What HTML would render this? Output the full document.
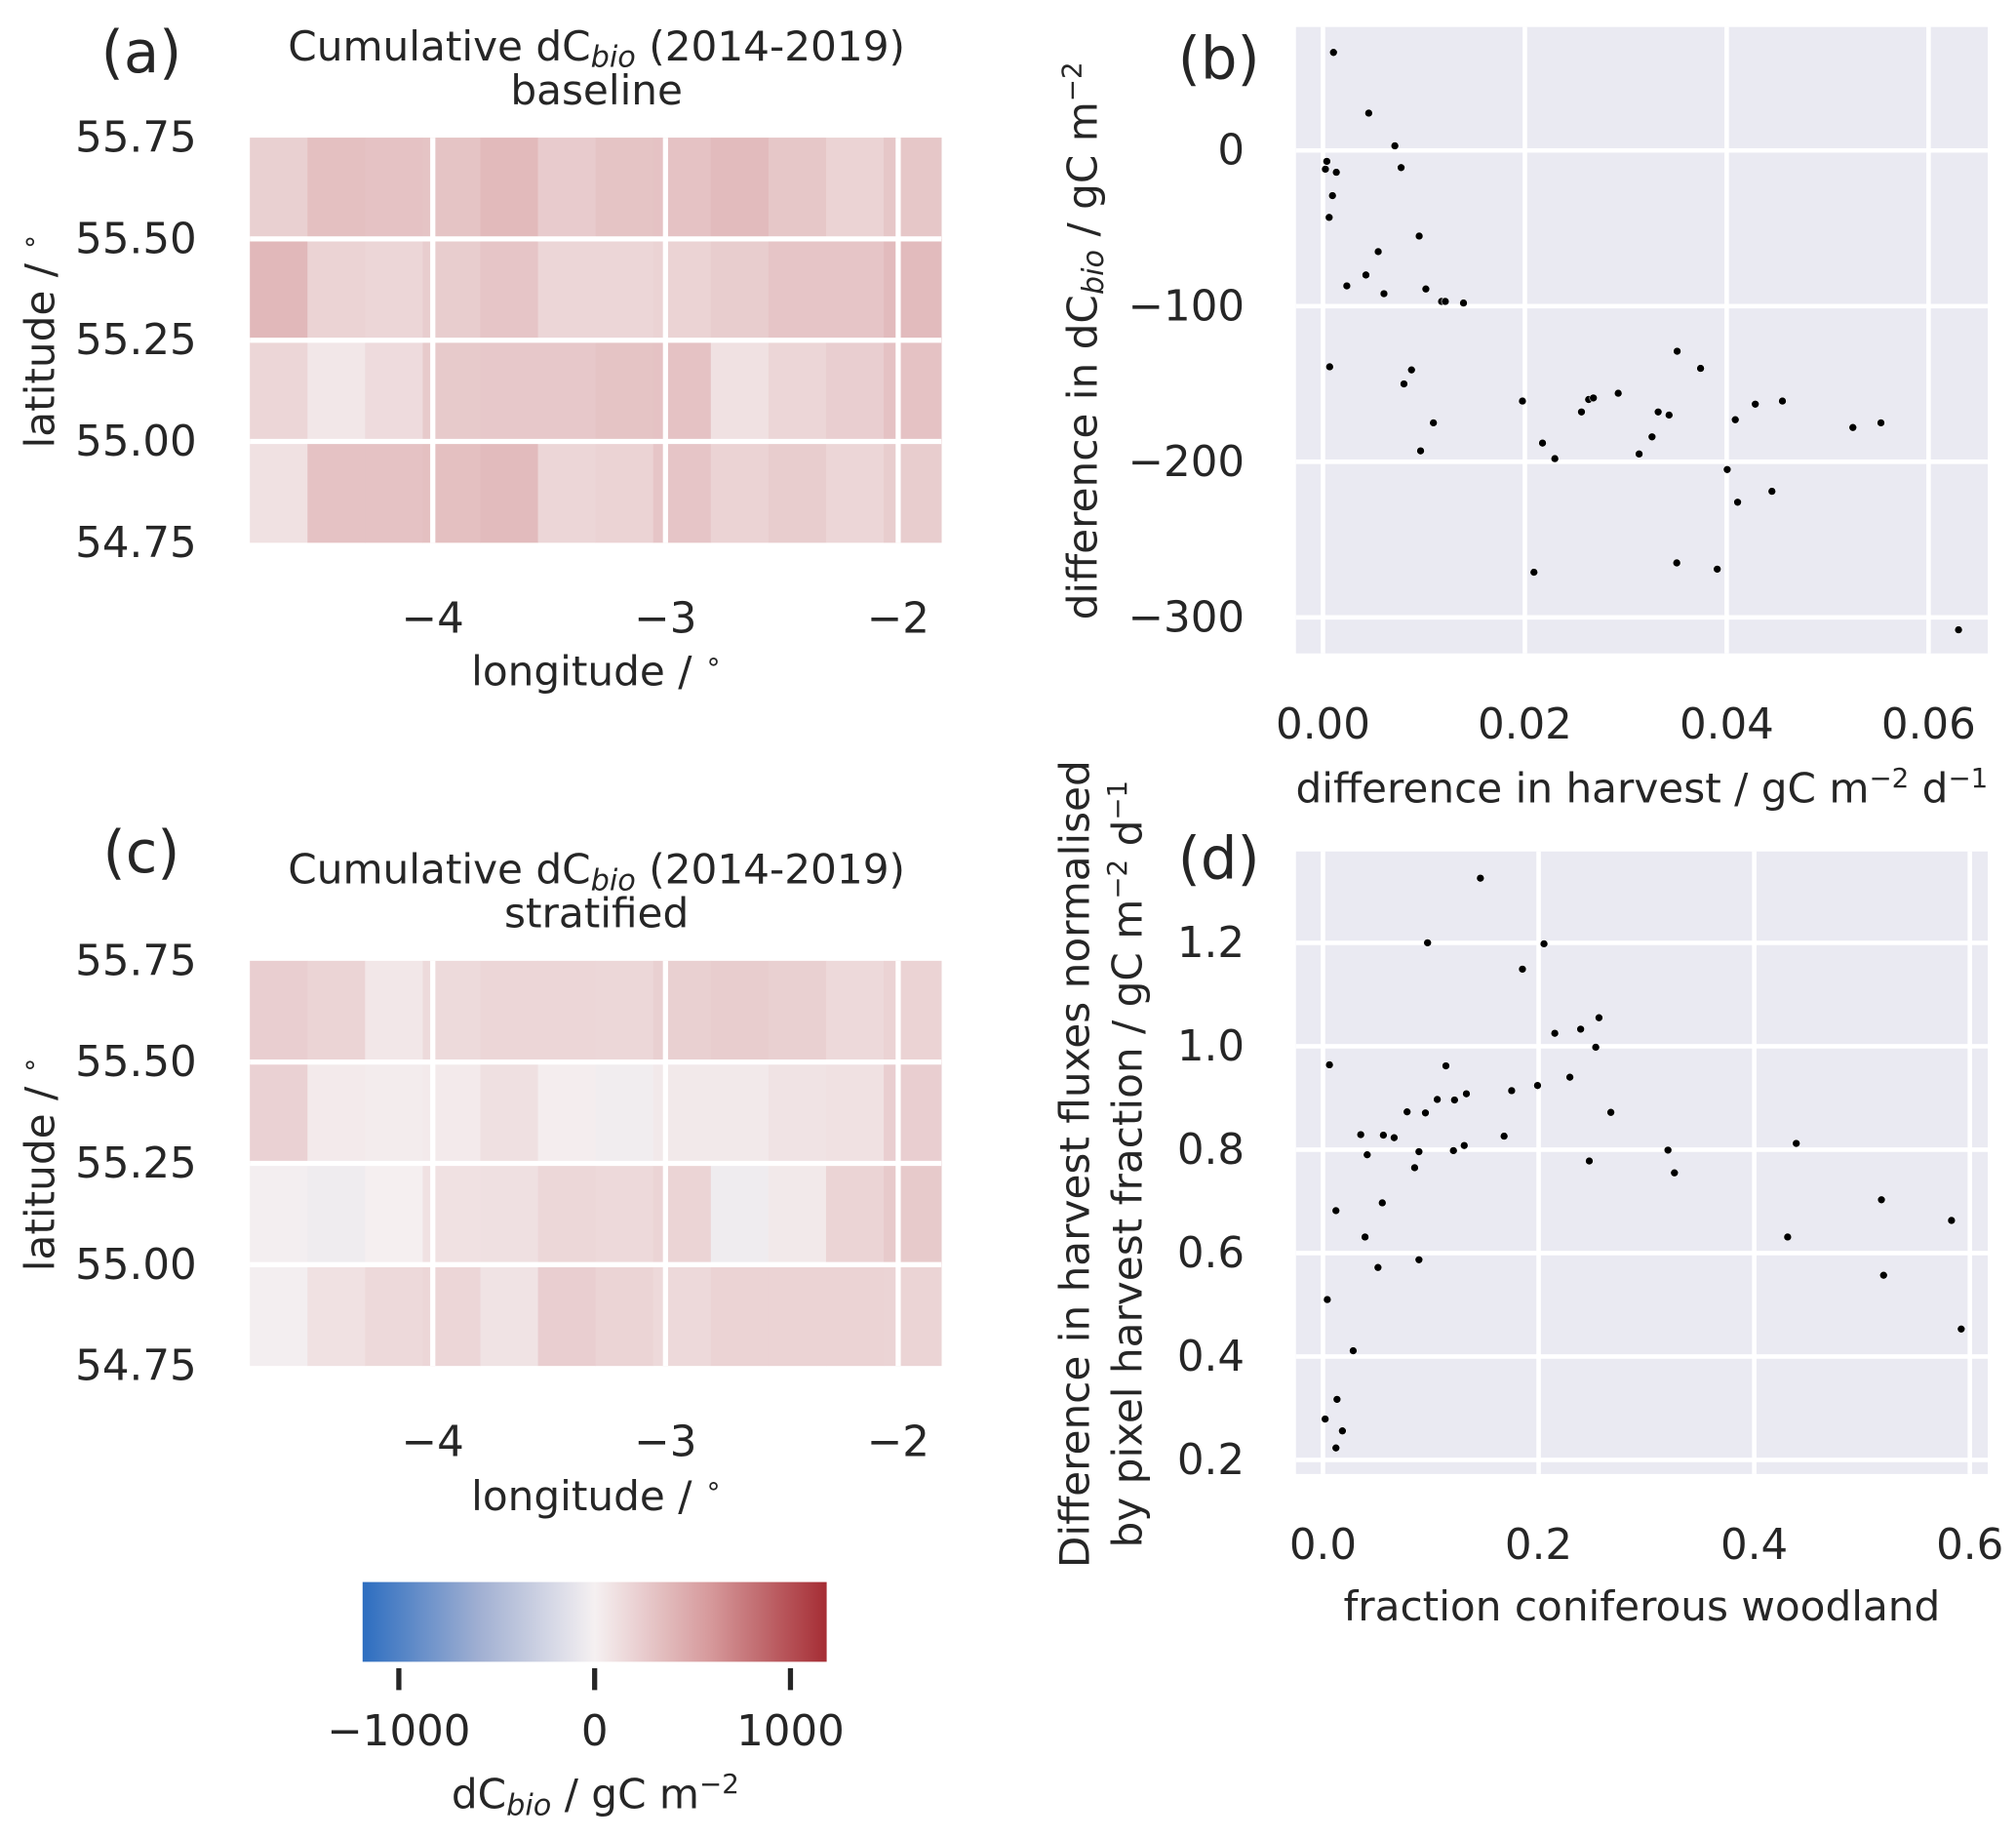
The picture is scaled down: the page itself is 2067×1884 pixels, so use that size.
<!DOCTYPE html>
<html><head><meta charset="utf-8"><style>
html,body{margin:0;padding:0;background:#fff}
svg{display:block}
text{font-family:"DejaVu Sans","Liberation Sans",sans-serif;fill:#262626}
</style></head><body>
<svg id="fig" width="2067" height="1884" viewBox="0 0 1568 1429" preserveAspectRatio="none" xmlns="http://www.w3.org/2000/svg">
<defs><linearGradient id="cbgrad" x1="0" x2="1" y1="0" y2="0"></linearGradient></defs>
<g id="pa"></g>
<g id="pc"></g>
<g id="pb"></g>
<g id="pd"></g>
<g id="cb"></g>
<text x="110" y="56" font-size="45" text-anchor="middle">(a)</text>
<text x="110" y="678" font-size="45" text-anchor="middle">(c)</text>
<text x="948" y="61" font-size="45" text-anchor="middle">(b)</text>
<text x="948" y="683" font-size="45" text-anchor="middle">(d)</text>
<text x="464" y="47" font-size="32" text-anchor="middle">Cumulative dC<tspan font-style="italic" font-size="23" dy="5">bio</tspan><tspan dy="-5"> (2014-2019)</tspan></text>
<text x="464" y="81" font-size="32" text-anchor="middle">baseline</text>
<text x="464" y="687" font-size="32" text-anchor="middle">Cumulative dC<tspan font-style="italic" font-size="23" dy="5">bio</tspan><tspan dy="-5"> (2014-2019)</tspan></text>
<text x="464" y="721" font-size="32" text-anchor="middle">stratified</text>
<text x="464" y="533" font-size="32" text-anchor="middle">longitude / <tspan font-size="21" dy="-12">∘</tspan></text>
<text x="464" y="1174" font-size="32" text-anchor="middle">longitude / <tspan font-size="21" dy="-12">∘</tspan></text>
<text transform="translate(42,265) rotate(-90)" font-size="32" text-anchor="middle">latitude / <tspan font-size="21" dy="-12">∘</tspan></text>
<text transform="translate(42,905) rotate(-90)" font-size="32" text-anchor="middle">latitude / <tspan font-size="21" dy="-12">∘</tspan></text>
<text transform="translate(853,265) rotate(-90)" font-size="32" text-anchor="middle">difference in dC<tspan font-style="italic" font-size="23" dy="5">bio</tspan><tspan dy="-5"> / gC m</tspan><tspan font-size="21" dy="-12">−2</tspan></text>
<text x="1277" y="624" font-size="32" text-anchor="middle">difference in harvest / gC m<tspan font-size="21" dy="-12">−2</tspan><tspan dy="12"> d</tspan><tspan font-size="21" dy="-12">−1</tspan></text>
<text transform="translate(847,905) rotate(-90)" font-size="32" text-anchor="middle">Difference in harvest fluxes normalised</text>
<text transform="translate(888,905) rotate(-90)" font-size="32" text-anchor="middle">by pixel harvest fraction / gC m<tspan font-size="21" dy="-12">−2</tspan><tspan dy="12"> d</tspan><tspan font-size="21" dy="-12">−1</tspan></text>
<text x="1277" y="1260" font-size="32" text-anchor="middle">fraction coniferous woodland</text>
<text x="463" y="1406" font-size="32" text-anchor="middle">dC<tspan font-style="italic" font-size="23" dy="5">bio</tspan><tspan dy="-5"> / gC m</tspan><tspan font-size="21" dy="-12">−2</tspan></text>
</svg>
<script>
// ---------- data ----------
var latRows = [55.75, 55.5, 55.25, 55.0];
var lonTicks = [-4, -3, -2];
var latTicks = [55.75, 55.5, 55.25, 55.0, 54.75];
var baselineValues = [
 [220,330,310,300,370,250,300,310,360,280,200,280],
 [380,200,180,240,290,180,180,200,240,290,290,360],
 [180,60,140,260,270,270,300,310,100,180,230,310],
 [100,310,310,330,360,180,200,290,200,240,180,240]
];
var stratifiedValues = [
 [230,190,60,150,180,180,170,220,240,220,160,200],
 [210,40,30,40,110,20,-30,50,50,90,100,230],
 [-15,-40,5,100,110,170,160,190,-40,50,190,260],
 [-15,100,160,180,90,230,190,160,200,200,200,190]
];
var cbTicks = [-1000, 0, 1000];
var bX = [.00104,.00453,.00712,.00038,.00024,.00132,.00774,.00094,.00061,.00953,.00547,.00425,.00236,.00604,.01019,.01175,.01212,.01392,.00066,.00877,.00802,.01094,.00967,.01976,.02175,.02297,.0209,.02561,.02632,.02679,.02925,.03132,.0326,.03321,.03429,.03509,.03741,.03505,.03906,.04005,.04085,.04108,.04283,.04448,.04552,.0525,.05528,.06297];
var bY = [63,24,3,-7,-12,-14,-11,-29,-43,-55,-65,-80,-87,-92,-89,-97,-97,-98,-139,-141,-150,-175,-193,-161,-188,-198,-271,-168,-160,-159,-156,-195,-184,-168,-170,-129,-140,-265,-269,-205,-173,-226,-163,-219,-161,-178,-175,-308];
var bXTicks = [0, 0.02, 0.04, 0.06];
var bXLabels = ["0.00","0.02","0.04","0.06"];
var bYTicks = [0, -100, -200, -300];
var bYLabels = ["0","−100","−200","−300"];
var dX = [.146,.097,.205,.185,.256,.215,.239,.253,.006,.114,.229,.199,.175,.133,.106,.122,.078,.095,.267,.035,.056,.066,.168,.131,.121,.089,.041,.32,.439,.085,.247,.326,.055,.012,.518,.583,.039,.431,.089,.051,.52,.004,.592,.028,.013,.002,.018,.012];
var dY = [1.325,1.2,1.198,1.149,1.055,1.025,1.033,.998,.964,.962,.94,.924,.914,.908,.897,.896,.873,.871,.872,.829,.828,.823,.826,.808,.798,.796,.79,.799,.812,.765,.778,.755,.697,.682,.703,.663,.631,.631,.587,.572,.557,.51,.453,.411,.317,.279,.256,.223];
var dXTicks = [0, 0.2, 0.4, 0.6];
var dXLabels = ["0.0","0.2","0.4","0.6"];
var dYTicks = [1.2, 1.0, 0.8, 0.6, 0.4, 0.2];
var dYLabels = ["1.2","1.0","0.8","0.6","0.4","0.2"];

var NS = "http://www.w3.org/2000/svg";
function mk(parent, tag, attrs){var e=document.createElementNS(NS,tag);for(var k in attrs)e.setAttribute(k,attrs[k]);parent.appendChild(e);return e;}
function lerp(a,b,t){return a+(b-a)*t;}
function color(v){
  var t=Math.max(-1,Math.min(1,v/1185));
  var c0=[245,240,241], red1=[214,153,155], red2=[165,45,52], blu1=[160,175,210], blu2=[45,110,192];
  var a,b,u,s=Math.abs(t);
  if(t>=0){ if(s<0.5){a=c0;b=red1;u=s/0.5;} else {a=red1;b=red2;u=(s-0.5)/0.5;} }
  else { if(s<0.5){a=c0;b=blu1;u=s/0.5;} else {a=blu1;b=blu2;u=(s-0.5)/0.5;} }
  return "rgb("+Math.round(lerp(a[0],b[0],u))+","+Math.round(lerp(a[1],b[1],u))+","+Math.round(lerp(a[2],b[2],u))+")";
}

function heatmap(gid, vals, top){
  var g=document.getElementById(gid);
  var lonX=function(lon){return 336.6+(lon+4)*181;};
  var latY=function(lat){return top+(55.75-lat)*315;};
  var lon0=-4.786, cw=0.2476;
  for(var r=0;r<vals.length;r++){
    for(var c=0;c<vals[r].length;c++){
      var x0=lonX(lon0+c*cw), x1=lonX(lon0+(c+1)*cw);
      var rc=mk(g,"rect",{x:x0,y:latY(latRows[r]),width:x1-x0+0.3,height:latY(latRows[r]-0.25)-latY(latRows[r]),fill:color(vals[r][c])});
      
      
    }
  }
  var xL=lonX(lon0), xR=lonX(lon0+12*cw);
  for(var i=1;i<4;i++){
    var ln=mk(g,"line",{x1:xL,x2:xR,y1:latY(55.75-0.25*i),y2:latY(55.75-0.25*i),stroke:"#fff","stroke-width":4});
    
    
  }
  lonTicks.forEach(function(l){
    var ln=mk(g,"line",{x1:lonX(l),x2:lonX(l),y1:latY(55.75),y2:latY(54.75),stroke:"#fff","stroke-width":4});
    
    
    var t=mk(g,"text",{x:lonX(l),y:latY(54.75)+70,"font-size":33,"text-anchor":"middle"});
    t.textContent="−"+Math.abs(l);
    
    
  });
  latTicks.forEach(function(l){
    var t=mk(g,"text",{x:153,y:latY(l)+11,"font-size":33,"text-anchor":"end"});
    t.textContent=l.toFixed(2);
    
    
  });
}
heatmap("pa", baselineValues, 107);
heatmap("pc", stratifiedValues, 747);

function scatter(gid, xs, ys, box, xf, yf, xt, xl, yt, yl, xlabY){
  var g=document.getElementById(gid);
  var bg=mk(g,"rect",{x:box[0],y:box[1],width:box[2]-box[0],height:box[3]-box[1],fill:"#eaeaf2"});
  
  
  xt.forEach(function(v,i){
    var ln=mk(g,"line",{x1:xf(v),x2:xf(v),y1:box[1],y2:box[3],stroke:"#fff","stroke-width":3.5});
    
    
    var t=mk(g,"text",{x:xf(v),y:xlabY,"font-size":33,"text-anchor":"middle"});
    t.textContent=xl[i];
    
    
  });
  yt.forEach(function(v,i){
    var ln=mk(g,"line",{x1:box[0],x2:box[2],y1:yf(v),y2:yf(v),stroke:"#fff","stroke-width":3.5});
    
    
    var t=mk(g,"text",{x:968,y:yf(v)+11,"font-size":33,"text-anchor":"end"});
    t.textContent=yl[i];
    
    
  });
  for(var i=0;i<xs.length;i++){
    var p=mk(g,"circle",{cx:xf(xs[i]),cy:yf(ys[i]),r:3,fill:"#000",stroke:"#fff","stroke-width":0.4});
    
    
  }
}
scatter("pb", bX, bY, [1008,21,1546,508],
  function(v){return 1029+v*7850;}, function(v){return 117-v*1.21;},
  bXTicks, bXLabels, bYTicks, bYLabels, 574);
scatter("pd", dX, dY, [1008,662,1546,1146],
  function(v){return 1029+v*838.5;}, function(v){return 733+(1.2-v)*402;},
  dXTicks, dXLabels, dYTicks, dYLabels, 1212);

// colorbar
(function(){
  var grad=document.getElementById("cbgrad");
  for(var i=0;i<=20;i++){
    var v=-1185+i*2370/20;
    mk(grad,"stop",{offset:(i/20),"stop-color":color(v)});
  }
  var g=document.getElementById("cb");
  var cx=function(v){return 462.5+v*0.1523;};
  var r=mk(g,"rect",{x:cx(-1185),y:1230,width:cx(1185)-cx(-1185),height:62,fill:"url(#cbgrad)"});
  
  
  cbTicks.forEach(function(v){
    var ln=mk(g,"line",{x1:cx(v),x2:cx(v),y1:1297,y2:1314,stroke:"#262626","stroke-width":4});
    
    
    var t=mk(g,"text",{x:cx(v),y:1357,"font-size":33,"text-anchor":"middle"});
    t.textContent=(v<0?"−":"")+Math.abs(v);
    
    
  });
})();
</script>
</body></html>
